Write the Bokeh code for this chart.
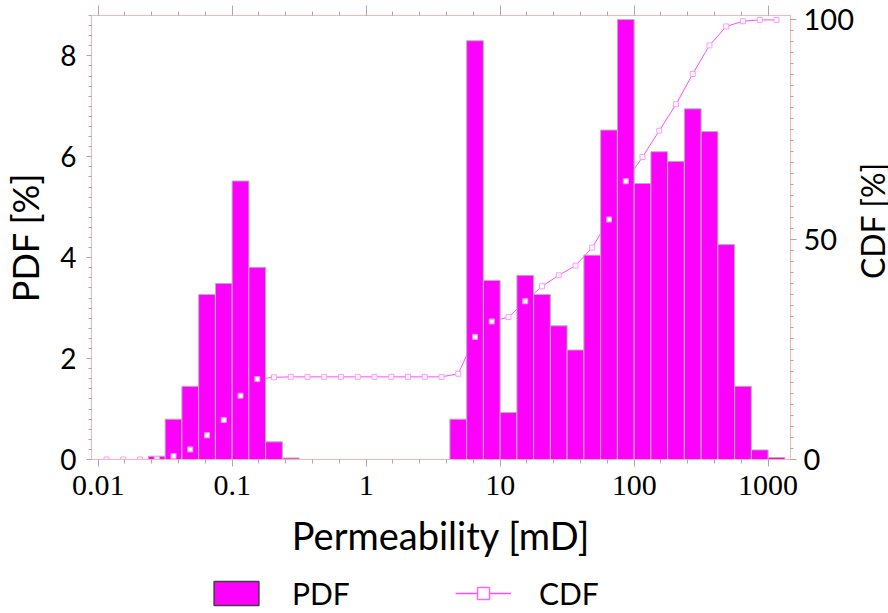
import math
from bokeh.plotting import figure
from bokeh.layouts import column, row
from bokeh.models import (Range1d, LinearAxis, LogAxis, FixedTicker, Legend, LegendItem,
                          ColumnDataSource, CustomJSTickFormatter, Label)
from bokeh.embed import file_html
from bokeh.resources import INLINE

# ---------------- data ----------------
# permeability bins [mD], 8 bins per decade (lower / upper edges)
bin_lo = [0.01, 0.01334, 0.01778, 0.02371, 0.03162, 0.04217, 0.05623, 0.07499,
          0.1, 0.1334, 0.1778, 0.2371, 0.3162, 0.4217, 0.5623, 0.7499,
          1.0, 1.334, 1.778, 2.371, 3.162, 4.217, 5.623, 7.499,
          10.0, 13.34, 17.78, 23.71, 31.62, 42.17, 56.23, 74.99,
          100.0, 133.4, 177.8, 237.1, 316.2, 421.7, 562.3, 749.9, 1000.0]
bin_hi = [0.01334, 0.01778, 0.02371, 0.03162, 0.04217, 0.05623, 0.07499, 0.1,
          0.1334, 0.1778, 0.2371, 0.3162, 0.4217, 0.5623, 0.7499, 1.0,
          1.334, 1.778, 2.371, 3.162, 4.217, 5.623, 7.499, 10.0,
          13.34, 17.78, 23.71, 31.62, 42.17, 56.23, 74.99, 100.0,
          133.4, 177.8, 237.1, 316.2, 421.7, 562.3, 749.9, 1000.0, 1334.0]

pdf = [0.0, 0.0, 0.0, 0.065, 0.80, 1.45, 3.27, 3.49,
       5.52, 3.81, 0.35, 0.03, 0.0, 0.0, 0.0, 0.0,
       0.0, 0.0, 0.0, 0.0, 0.0, 0.80, 8.30, 3.55,
       0.93, 3.65, 3.27, 2.65, 2.17, 4.05, 6.53, 8.72,
       5.47, 6.10, 5.91, 6.95, 6.50, 4.26, 1.45, 0.19, 0.04]

cdf = [0.0, 0.0, 0.0, 0.1, 0.8, 2.3, 5.5, 9.0,
       14.5, 18.3, 18.7, 18.8, 18.8, 18.8, 18.8, 18.8,
       18.8, 18.8, 18.8, 18.8, 18.8, 19.5, 27.9, 31.4,
       32.4, 36.0, 39.4, 41.9, 44.1, 48.2, 54.6, 63.3,
       68.8, 74.8, 80.8, 87.7, 94.2, 98.5, 99.7, 100.0, 100.0]

x_ticks = [0.01, 0.1, 1, 10, 100, 1000]
x_tick_labels = ["0.01", "0.1", "1", "10", "100", "1000"]
pdf_ticks = [0, 2, 4, 6, 8]
cdf_ticks = [0, 50, 100]

# ---------------- styling constants ----------------
MAGENTA = "#FF00FF"
PINK_AXIS = "#FFB4B4"
TICK_GRAY = "#A8A8A8"
SANS = "Lato"
SERIF = "Liberation Serif"

xc = [math.sqrt(a * b) for a, b in zip(bin_lo, bin_hi)]
src = ColumnDataSource(dict(lo=bin_lo, hi=bin_hi, pdf=pdf, cdf=cdf, xc=xc))

p = figure(width=856, height=573, x_axis_type="log",
           x_range=Range1d(0.00892, 1469), y_range=Range1d(0, 8.8),
           output_backend="svg", toolbar_location=None,
           min_border_left=90, min_border_right=62,
           min_border_top=15, min_border_bottom=114)
p.extra_y_ranges = {"cdf": Range1d(0, 101)}
p.xgrid.visible = False
p.ygrid.visible = False
p.outline_line_color = PINK_AXIS
p.background_fill_color = "white"
p.border_fill_color = "white"

# CDF line (behind the bars)
p.line(x="xc", y="cdf", source=src, y_range_name="cdf",
       line_color="#FF4CFF", line_width=1)
# PDF bars
p.quad(left="lo", right="hi", bottom=0, top="pdf", source=src,
       fill_color=MAGENTA, line_color="#B4B4B4", line_width=1)
# CDF markers
p.scatter(x="xc", y="cdf", source=src, y_range_name="cdf", marker="square",
          size=5, fill_color="white", line_color="#FF99FF", line_width=1)

# ---------------- x axis ----------------
minor_x = [10 ** (k / 5.0) for k in range(-10, 17)]
xfmt = CustomJSTickFormatter(args=dict(tv=x_ticks, tl=x_tick_labels), code="""
    for (let i = 0; i < tv.length; i++) {
        if (Math.abs(Math.log10(tv[i]) - Math.log10(tick)) < 1e-6) return tl[i];
    }
    return String(tick);
""")
xa = p.xaxis[0]
xa.ticker = FixedTicker(ticks=x_ticks, minor_ticks=minor_x)
xa.formatter = xfmt
xa.axis_label = "Permeability [mD]"
xa.axis_label_text_font = SANS
xa.axis_label_text_font_size = "38px"
xa.axis_label_text_font_style = "normal"
xa.axis_label_text_color = "black"
xa.axis_label_standoff = 14
xa.major_label_text_font = SERIF
xa.major_label_text_font_size = "30px"
xa.major_label_text_color = "black"
xa.major_label_standoff = 9
xa.axis_line_color = PINK_AXIS
xa.major_tick_line_color = TICK_GRAY
xa.minor_tick_line_color = TICK_GRAY
xa.major_tick_in = 0
xa.major_tick_out = 7
xa.minor_tick_in = 0
xa.minor_tick_out = 4

top = LogAxis(ticker=FixedTicker(ticks=x_ticks, minor_ticks=minor_x),
              formatter=xfmt,
              major_label_text_font_size="1px", major_label_text_color=None,
              major_label_standoff=0,
              axis_line_color=PINK_AXIS, major_tick_line_color=TICK_GRAY,
              minor_tick_line_color=TICK_GRAY, major_tick_in=0, major_tick_out=10,
              minor_tick_in=0, minor_tick_out=4)
p.add_layout(top, "above")

# ---------------- left axis (PDF) ----------------
ya = p.yaxis[0]
ya.ticker = FixedTicker(ticks=pdf_ticks, minor_ticks=[k * 0.2 for k in range(0, 45)])
ya.axis_label = "PDF [%]"
ya.axis_label_text_font = SANS
ya.axis_label_text_font_size = "36px"
ya.axis_label_text_font_style = "normal"
ya.axis_label_text_color = "black"
ya.axis_label_standoff = 10
ya.major_label_text_font = SANS
ya.major_label_text_font_size = "28px"
ya.major_label_text_color = "black"
ya.major_label_standoff = 10
ya.axis_line_color = PINK_AXIS
ya.major_tick_line_color = TICK_GRAY
ya.minor_tick_line_color = TICK_GRAY
ya.major_tick_in = 0
ya.major_tick_out = 5
ya.minor_tick_in = 0
ya.minor_tick_out = 3

# ---------------- right axis (CDF) ----------------
ra = LinearAxis(y_range_name="cdf",
                ticker=FixedTicker(ticks=cdf_ticks, minor_ticks=[k * 2.5 for k in range(0, 41)]),
                major_label_text_font=SANS, major_label_text_font_size="29px",
                major_label_text_color="black", major_label_standoff=7,
                axis_line_color=PINK_AXIS, major_tick_line_color=TICK_GRAY,
                minor_tick_line_color=TICK_GRAY, major_tick_in=0, major_tick_out=6,
                minor_tick_in=0, minor_tick_out=3)
p.add_layout(ra, "right")

# ---------------- right axis title strip (frame aligned with the chart frame) ----------------
tf = figure(width=32, height=573, x_range=Range1d(0, 1), y_range=Range1d(0, 1),
            x_axis_location=None, y_axis_location=None,
            output_backend="svg", toolbar_location=None, min_border=0)
tf.xgrid.visible = False
tf.ygrid.visible = False
tf.outline_line_color = None
tf.background_fill_color = "white"
tf.border_fill_color = "white"
tf.add_layout(Label(x=16, y=239, x_units="screen", y_units="screen", text="CDF [%]",
                    angle=math.pi / 2, text_align="center", text_baseline="middle",
                    text_font=SANS, text_font_size="32px", text_color="black"))

# ---------------- legend strip below the chart ----------------
lf = figure(width=888, height=40, x_range=Range1d(0, 1), y_range=Range1d(0, 1),
            x_axis_location=None, y_axis_location=None,
            output_backend="svg", toolbar_location=None, min_border=0)
lf.xgrid.visible = False
lf.ygrid.visible = False
lf.outline_line_color = None
lf.background_fill_color = "white"
lf.border_fill_color = "white"

# legend-only renderers (one point each, placed outside the visible range)
leg_pdf = lf.quad(left=[-3], right=[-2], bottom=[-3], top=[-2], fill_color=MAGENTA,
                  line_color="#404040", line_width=1.5)
leg_line = lf.line(x=[-3, -2], y=[-3, -2], line_color="#FF4CFF", line_width=1.5)
leg_mark = lf.scatter(x=[-3], y=[-3], marker="square", size=15, fill_color="white",
                      line_color="#FF66FF", line_width=1.5)

legend = Legend(items=[LegendItem(label="PDF", renderers=[leg_pdf]),
                       LegendItem(label="CDF", renderers=[leg_line, leg_mark])],
                orientation="horizontal", location=(208, 2),
                glyph_width=56, glyph_height=30, label_standoff=28,
                label_width=135, spacing=28, padding=0, margin=0,
                label_text_font=SANS, label_text_font_size="30px",
                label_text_color="black",
                border_line_color=None, background_fill_alpha=0)
lf.add_layout(legend, "center")

open("out.html", "w").write(file_html(column(row(p, tf, spacing=0), lf, spacing=0), INLINE))
